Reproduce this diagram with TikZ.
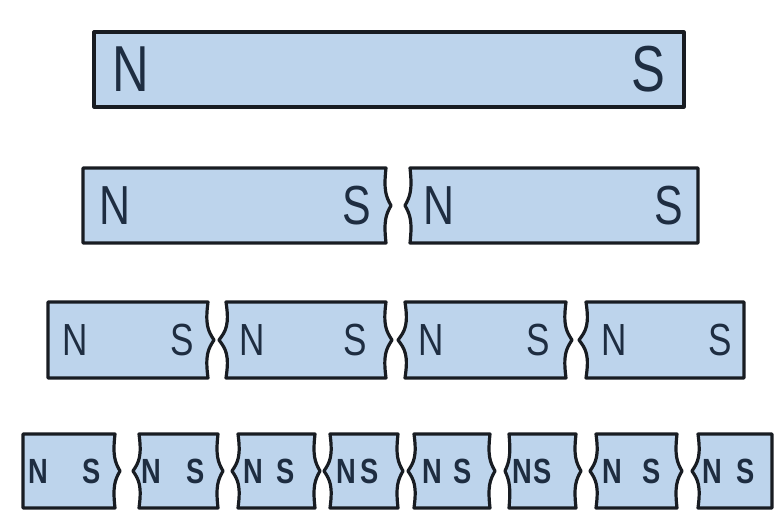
\documentclass[tikz,border=0pt]{standalone}
\usepackage{fontspec}
\newfontfamily\polefont[FakeStretch=0.78]{Liberation Sans}
\definecolor{barfill}{RGB}{189,212,236}
\definecolor{barline}{RGB}{24,28,34}
\definecolor{poleink}{RGB}{30,45,65}
% #1 name, #2 left x, #3 right x, #4 top y, #5 bottom y,
% #6 left break, #7 right break, #8 x of N, #9 x of S
\newcommand{\Magnet}[9]{%
\draw [magnetbar] (#2,#4) -- (#3,#4)
.. controls ({#3-0.5*(#7)},{#4+0.3*(#5-#4)}) and (#3,{(#4+#5)/2-0.12*(#5-#4)}) .. ({#3+(#7)},{(#4+#5)/2})
.. controls (#3,{(#4+#5)/2+0.12*(#5-#4)}) and ({#3-0.5*(#7)},{#5-0.3*(#5-#4)}) .. (#3,#5)
-- (#2,#5)
.. controls ({#2+0.5*(#6)},{#5-0.3*(#5-#4)}) and (#2,{(#4+#5)/2+0.12*(#5-#4)}) .. ({#2-(#6)},{(#4+#5)/2})
.. controls (#2,{(#4+#5)/2-0.12*(#5-#4)}) and ({#2+0.5*(#6)},{#4+0.3*(#5-#4)}) .. (#2,#4) -- cycle;
\node [poletext] (#1N) at (#8,{(#4+#5)/2}) {N};
\node [poletext] (#1S) at (#9,{(#4+#5)/2}) {S};
}

\begin{document}
\begin{tikzpicture}
[x=1pt,y=-1pt,
magnetbar/.style={draw=barline,fill=barfill,line width=3.2pt,line join=round},
poletext/.style={inner sep=0pt,text=poleink}
]
\useasboundingbox (0,0) rectangle (778,514);
\begin{scope}[font=\polefont\fontsize{65}{65}\selectfont]
\Magnet{whole}{94}{684}{32}{107}{0}{0}{131}{648}
\end{scope}
\begin{scope}[font=\polefont\fontsize{55}{55}\selectfont]
\Magnet{halfA}{83}{386}{168}{243}{0}{5}{115}{357}
\Magnet{halfB}{410}{698}{168}{243}{5}{0}{439}{669}
\end{scope}
\begin{scope}[font=\polefont\fontsize{45}{45}\selectfont]
\Magnet{quarterA}{48}{208}{302}{378}{0}{6}{75}{182}
\Magnet{quarterB}{226}{386}{302}{378}{7}{6}{252}{355}
\Magnet{quarterC}{405}{566}{302}{378}{7}{6}{431}{538}
\Magnet{quarterD}{586}{744}{302}{378}{7}{0}{614}{720}
\end{scope}
\begin{scope}[font=\polefont\bfseries\fontsize{35}{35}\selectfont]
\Magnet{eighthA}{23}{115}{434}{508}{0}{5}{38}{92}
\Magnet{eighthB}{139}{218}{434}{508}{6}{5}{151}{196}
\Magnet{eighthC}{238}{315}{434}{508}{6}{5}{253}{286}
\Magnet{eighthD}{330}{398}{434}{508}{6}{5}{346}{370}
\Magnet{eighthE}{414}{490}{434}{508}{6}{5}{432}{463}
\Magnet{eighthF}{509}{576}{434}{508}{4}{5}{522}{543}
\Magnet{eighthG}{596}{677}{434}{508}{6}{5}{612}{652}
\Magnet{eighthH}{698}{772}{434}{508}{6}{0}{712}{746}
\end{scope}
\end{tikzpicture}
\end{document}
